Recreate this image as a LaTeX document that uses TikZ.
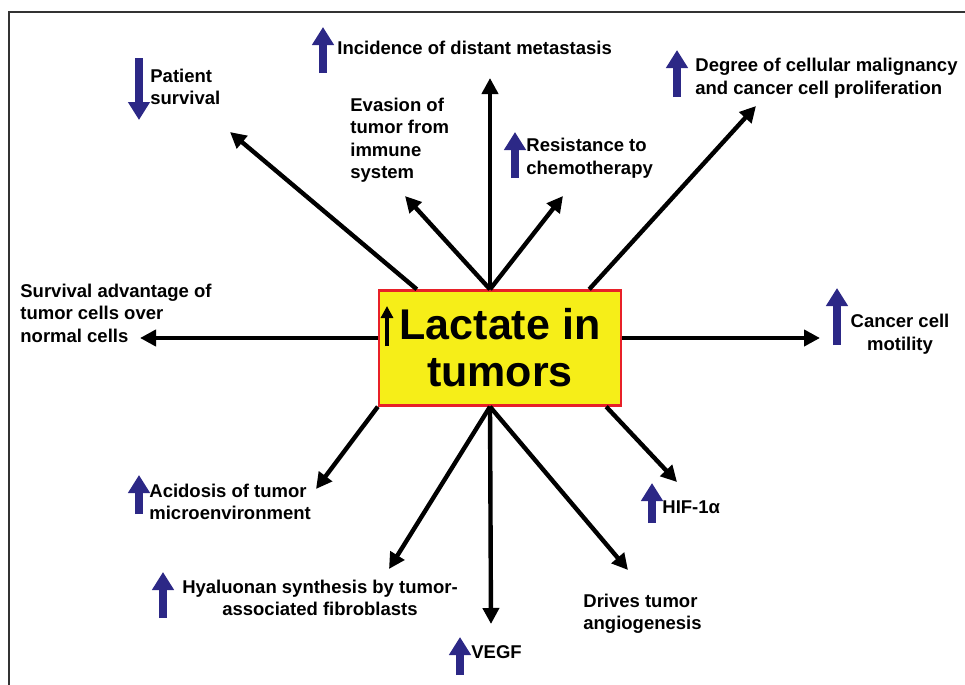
\documentclass[tikz,border=0pt]{standalone}
\usepackage{fontspec}
\setmainfont{Liberation Sans}
\usepackage{xcolor}
\usepackage{tikz}
\usetikzlibrary{arrows.meta}

\definecolor{boxyellow}{RGB}{246,238,24}
\definecolor{boxred}{RGB}{232,32,40}
\definecolor{upblue}{RGB}{44,40,134}

\begin{document}
\begin{tikzpicture}[x=0.5pt,y=-0.5pt,>={Triangle[length=8pt,width=8pt]},
    lbl/.style={inner sep=0pt,anchor=west,align=left,font=\fontsize{9.25}{11.25}\selectfont\bfseries},
    lblc/.style={inner sep=0pt,align=center,font=\fontsize{9.25}{11.25}\selectfont\bfseries},
    conn/.style={->,line width=2.2pt},
    bluearr/.style={-{Triangle[length=9pt,width=10.5pt]},upblue,line width=3.6pt}]
  \useasboundingbox (0,0) rectangle (965,685);
  \draw[line width=1pt,black!80] (9,685) -- (9,12) -- (965,12);
  \node[draw=boxred,fill=boxyellow,line width=1.2pt,minimum width=121pt,minimum height=57.5pt,inner sep=0pt,align=center,font=\fontsize{21.5}{23.5}\selectfont\bfseries] (box) at (500,348) {Lactate in\\tumors};
  \draw[-{Triangle[length=6pt,width=6pt]}, line width=2pt] (387,346) -- (387,306);
  \node[lbl] (patient) at (150,87) {Patient\\survival};
  \node[lbl] (incid) at (337,48) {Incidence of distant metastasis};
  \node[lbl] (evasion) at (350,140) {Evasion of\\tumor from\\immune\\system};
  \node[lbl] (resist) at (526,158) {Resistance to\\chemotherapy};
  \node[lbl] (degree) at (695,78) {Degree of cellular malignancy\\and cancer cell proliferation};
  \node[lblc] (motil) at (900,334) {Cancer cell\\motility};
  \node[lbl] (surv) at (20,313) {Survival advantage of\\tumor cells over\\normal cells};
  \node[lbl] (acid) at (149,502) {Acidosis of tumor\\microenvironment};
  \node[lblc] (hyal) at (320,598) {Hyaluonan synthesis by tumor-\\associated fibroblasts};
  \node[lbl] (vegf) at (471,652) {VEGF};
  \node[lbl] (hif) at (662,507) {HIF-1α};
  \node[lbl] (drives) at (583,614) {Drives tumor\\angiogenesis};
  % arrow tips
  \coordinate (tInc) at (490,78);
  \coordinate (tEva) at (405,196);
  \coordinate (tRes) at (563,196);
  \coordinate (tPat) at (230,132);
  \coordinate (tDeg) at (756,106);
  \coordinate (tMot) at (820,338);
  \coordinate (tSur) at (140,338);
  \coordinate (tVeg) at (491,624);
  \coordinate (tHya) at (389,569);
  \coordinate (tDri) at (628,570);
  \coordinate (tAci) at (316,489);
  \coordinate (tHif) at (677,482);
  \draw[conn] ([xshift=-5pt]box.north) -- (tInc);
  \draw[conn] ([xshift=-5pt]box.north) -- (tEva);
  \draw[conn] ([xshift=-5pt]box.north) -- (tRes);
  \draw[conn] ([xshift=19.5pt]box.north west) -- (tPat);
  \draw[conn] ([xshift=-16.5pt]box.north east) -- (tDeg);
  \draw[conn] ([yshift=5pt]box.east) -- (tMot);
  \draw[conn] ([yshift=5pt]box.west) -- (tSur);
  \draw[conn] ([xshift=-5pt]box.south) -- (tVeg);
  \draw[conn] ([xshift=-5pt]box.south) -- (tHya);
  \draw[conn] ([xshift=-5pt]box.south) -- (tDri);
  \draw[conn] (box.south west) -- (tAci);
  \draw[conn] ([xshift=-8pt]box.south east) -- (tHif);
  % blue up/down marks
  \draw[bluearr] (139,58) -- (139,120);
  \draw[bluearr] (323,73) -- (323,27);
  \draw[bluearr] (515,178) -- (515,132);
  \draw[bluearr] (677,97) -- (677,50);
  \draw[bluearr] (837,345) -- (837,288);
  \draw[bluearr] (139,514) -- (139,475);
  \draw[bluearr] (163,618) -- (163,572);
  \draw[bluearr] (460,675) -- (460,637);
  \draw[bluearr] (652,523) -- (652,483);
\end{tikzpicture}
\end{document}
